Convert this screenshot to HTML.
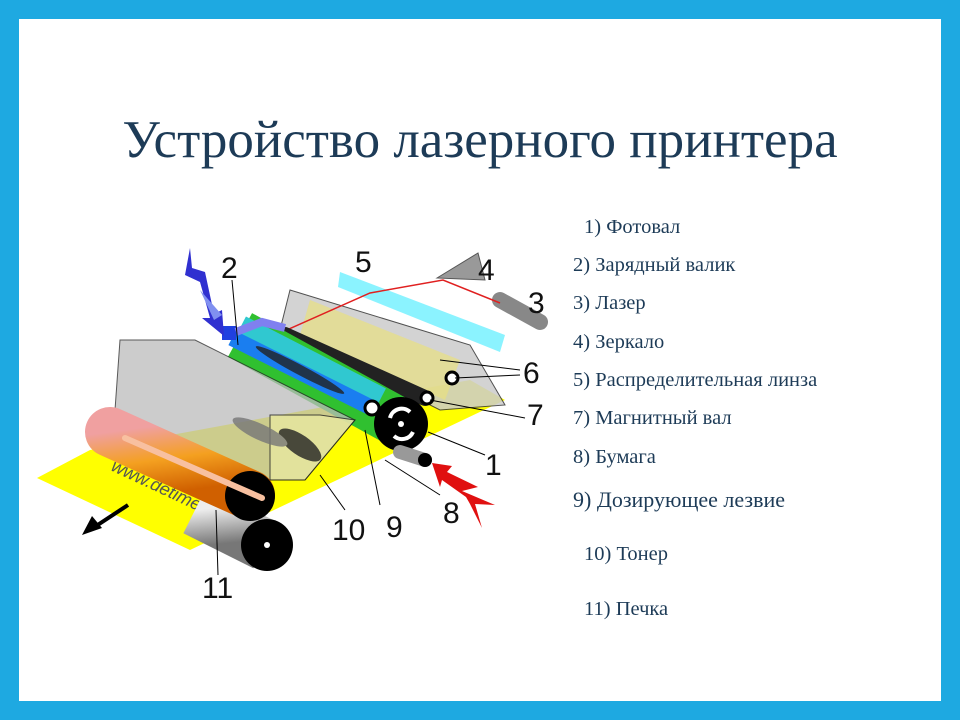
<!DOCTYPE html>
<html><head><meta charset="utf-8"><style>
body{margin:0;width:960px;height:720px;background:#1ea9e1;overflow:hidden}
.in{position:absolute;left:19px;top:19px;width:922px;height:682px;background:#fff}
h1{position:absolute;left:0;top:110px;width:960px;margin:0;text-align:center;font:53px "Liberation Serif",serif;color:#1d3b57}
.l{position:absolute;font:20.5px "Liberation Serif",serif;color:#1d3b57;white-space:nowrap}
svg{position:absolute;left:0;top:0}
</style></head><body>
<div class="in"></div>
<h1>Устройство лазерного принтера</h1>
<svg width="960" height="720" font-family="Liberation Sans, sans-serif">
<defs>
<linearGradient id="or" x1="0" y1="0" x2="0.3" y2="1"><stop offset="0" stop-color="#f0a0a0"/><stop offset="0.5" stop-color="#f4a020"/><stop offset="1" stop-color="#d06000"/></linearGradient>
<linearGradient id="gr" x1="0" y1="0" x2="0.2" y2="1"><stop offset="0" stop-color="#eee"/><stop offset="1" stop-color="#777"/></linearGradient>
</defs>
<polygon points="37,478 190,550 505,400 470,380 90,450" fill="#ffff00"/>
<text x="110" y="470" font-size="18" fill="#555" transform="rotate(25 110 470)" font-style="italic">www.detimes.net</text>
<polygon points="290,290 470,345 505,405 440,410 280,330" fill="#ccc" stroke="#333" opacity="0.85"/>
<polygon points="310,300 460,360 445,400 300,335" fill="#e8e080" opacity="0.7"/>
<polygon points="340,272 505,335 500,352 338,287" fill="#6ef0ff" opacity="0.8"/>
<polygon points="437,278 478,253 485,280" fill="#999" stroke="#555"/>
<line x1="500" y1="300" x2="540" y2="322" stroke="#888" stroke-width="16" stroke-linecap="round"/>
<polyline points="253,345 370,293 443,280 500,303" fill="none" stroke="#e02020" stroke-width="1.5"/>
<line x1="285" y1="335" x2="425" y2="398" stroke="#222" stroke-width="16" stroke-linecap="round"/>
<circle cx="427" cy="398" r="6" fill="#fff" stroke="#000" stroke-width="3"/>
<circle cx="452" cy="378" r="6" fill="#fff" stroke="#000" stroke-width="3"/>
<line x1="240" y1="335" x2="398" y2="422" stroke="#30c030" stroke-width="50" stroke-linecap="butt"/>
<line x1="240" y1="328" x2="380" y2="400" stroke="#30c8d0" stroke-width="26"/>
<circle cx="401" cy="424" r="27" fill="#000"/>
<path d="M390 418 A12 12 0 0 1 410 412" stroke="#fff" stroke-width="4" fill="none"/>
<path d="M394 436 A12 12 0 0 0 413 432" stroke="#fff" stroke-width="4" fill="none"/>
<circle cx="401" cy="424" r="3" fill="#fff"/>
<line x1="232" y1="338" x2="370" y2="407" stroke="#1a7ef0" stroke-width="16"/>
<circle cx="372" cy="408" r="7" fill="#fff" stroke="#000" stroke-width="3"/>
<rect x="222" y="326" width="14" height="14" fill="#2040e0"/>
<polyline points="236,332 262,322 285,328" fill="none" stroke="#8080f0" stroke-width="8"/>
<polygon points="190,248 185,275 200,282 210,318 202,318 224,336 222,310 214,314 205,272 192,268" fill="#3030d0"/>
<polygon points="200,290 222,315 214,320" fill="#8090f0"/>
<polygon points="120,340 195,340 355,420 305,480 270,480 115,410" fill="#bbb" stroke="#222" opacity="0.75"/>
<polygon points="270,415 320,415 355,420 305,480 270,480" fill="#e8e8a0" stroke="#222" opacity="0.8"/>
<g fill="#222" opacity="0.8"><ellipse cx="300" cy="445" rx="25" ry="10" transform="rotate(35 300 445)"/><ellipse cx="260" cy="432" rx="30" ry="8" transform="rotate(25 260 432)" fill="#777"/><ellipse cx="300" cy="370" rx="50" ry="5" transform="rotate(28 300 370)"/></g>
<line x1="400" y1="452" x2="425" y2="460" stroke="#999" stroke-width="14" stroke-linecap="round"/>
<circle cx="425" cy="460" r="7" fill="#000"/>
<polygon points="432,463 452,466 447,472 478,487 462,491 495,505 475,504 482,528 470,504 466,497 442,480 440,487" fill="#e01010"/>
<line x1="195" y1="510" x2="265" y2="545" stroke="url(#gr)" stroke-width="52"/>
<circle cx="267" cy="545" r="26" fill="#000"/><circle cx="267" cy="545" r="3" fill="#fff"/>
<line x1="110" y1="432" x2="250" y2="495" stroke="url(#or)" stroke-width="50" stroke-linecap="round"/>
<circle cx="250" cy="496" r="25" fill="#000"/>
<line x1="125" y1="438" x2="262" y2="498" stroke="#f8c0a0" stroke-width="6" stroke-linecap="round"/>
<line x1="128" y1="505" x2="90" y2="530" stroke="#000" stroke-width="4"/>
<polygon points="82,535 92,516 102,528" fill="#000"/>
<g stroke="#000" stroke-width="1" fill="none">
<line x1="232" y1="280" x2="238" y2="345"/><line x1="440" y1="360" x2="520" y2="370"/><line x1="455" y1="378" x2="520" y2="375"/>
<line x1="430" y1="400" x2="525" y2="418"/><line x1="428" y1="432" x2="485" y2="455"/><line x1="385" y1="460" x2="440" y2="495"/>
<line x1="365" y1="430" x2="380" y2="505"/><line x1="320" y1="475" x2="345" y2="510"/><line x1="216" y1="510" x2="218" y2="575"/>
</g>
<g font-size="30" fill="#111">
<text x="221" y="278">2</text><text x="355" y="272">5</text><text x="478" y="280">4</text><text x="528" y="313">3</text>
<text x="523" y="383">6</text><text x="527" y="425">7</text><text x="485" y="475">1</text><text x="443" y="523">8</text>
<text x="386" y="537">9</text><text x="332" y="540">10</text><text x="202" y="598">11</text>
</g>
</svg>
<div class="l" style="left:584px;top:216px">1) Фотовал</div>
<div class="l" style="left:573px;top:254px">2) Зарядный валик</div>
<div class="l" style="left:573px;top:292px">3) Лазер</div>
<div class="l" style="left:573px;top:331px">4) Зеркало</div>
<div class="l" style="left:573px;top:369px">5) Распределительная линза</div>
<div class="l" style="left:573px;top:407px">7) Магнитный вал</div>
<div class="l" style="left:573px;top:446px">8) Бумага</div>
<div class="l" style="left:573px;top:487px;font-size:22px">9) Дозирующее лезвие</div>
<div class="l" style="left:584px;top:543px">10) Тонер</div>
<div class="l" style="left:584px;top:598px">11) Печка</div>
</body></html>
